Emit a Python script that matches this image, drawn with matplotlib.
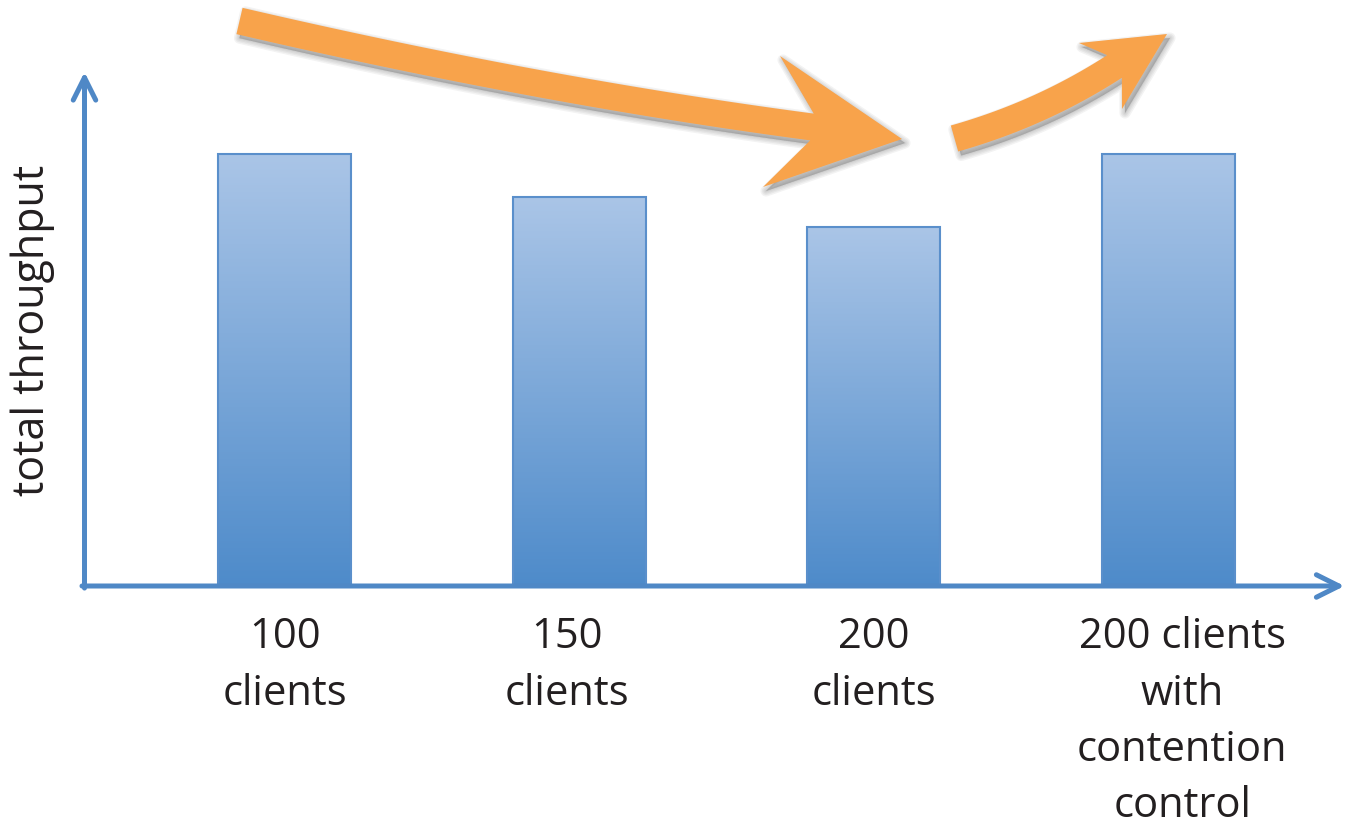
import numpy as np
import matplotlib.pyplot as plt
from matplotlib.colors import LinearSegmentedColormap
from matplotlib.patches import Polygon
from matplotlib.transforms import ScaledTranslation

plt.rcParams['font.family'] = ['Open Sans', 'DejaVu Sans']

categories = ['100\nclients', '150\nclients', '200\nclients',
              '200 clients\nwith\ncontention\ncontrol']
throughput = [100, 90, 83, 100]

AXIS_BLUE = '#4F88C6'
BAR_EDGE = '#5A8FCB'
BAR_TOP = '#AAC5E7'
BAR_BOTTOM = '#4E8BCA'
ORANGE = '#F8A34B'
TEXT = '#231F20'

W, H = 1347, 828


def bezier(p0, c, p1, n=80):
    """ Points and unit normals along a quadratic bezier """
    t = np.linspace(0, 1, n)[:, None]
    p0, c, p1 = map(np.asarray, (p0, c, p1))
    pts = (1 - t) ** 2 * p0 + 2 * t * (1 - t) * c + t ** 2 * p1
    d = 2 * (1 - t) * (c - p0) + 2 * t * (p1 - c)
    d = d / np.linalg.norm(d, axis=1)[:, None]
    nrm = np.column_stack([-d[:, 1], d[:, 0]])
    return pts, nrm


def arrow_outline(p0, c, p1, width, barb_a, tip, barb_b):
    """ Curved block arrow with a notched head, in pixel coordinates """
    pts, nrm = bezier(p0, c, p1)
    side_a = pts + nrm * width / 2
    side_b = pts - nrm * width / 2
    return np.vstack([side_a, [barb_a, tip, barb_b], side_b[::-1]])


def draw_block_arrow(ax, outline):
    # soft drop shadow first, then the arrow itself
    for lw in (8, 6, 4, 2, 0.5):
        ax.add_patch(Polygon(outline + np.array([3, 4]), closed=True, fc='#555555', ec='#555555',
                             lw=lw, alpha=0.07, joinstyle='round'))
    ax.add_patch(Polygon(outline, closed=True, fc=ORANGE, ec='none'))


fig = plt.figure(figsize=(W / 100, H / 100), dpi=100)

# main chart, placed so the axis origin sits at the left/bottom arrows
ax = fig.add_axes([84.5 / W, 1 - 587 / H, 1 - 84.5 / W, 514 / H])
x = np.arange(len(categories))
bars = ax.bar(x, throughput, width=0.451, color='none', edgecolor=BAR_EDGE, linewidth=1.5, zorder=3)

cmap = LinearSegmentedColormap.from_list('barfill', [BAR_BOTTOM, BAR_TOP])
grad = np.linspace(0, 1, 256)[:, None]
for b in bars:
    x0, y0 = b.get_x(), b.get_y()
    im = ax.imshow(grad, cmap=cmap, origin='lower', aspect='auto', interpolation='bilinear',
                   extent=(x0, x0 + b.get_width(), y0, y0 + b.get_height()), zorder=2)
    im.set_clip_path(b)

ax.set_xlim(-0.679, 3.606)
ax.set_ylim(0, 119.0)
for s in ax.spines.values():
    s.set_visible(False)
ax.set_yticks([])
ax.set_xticks(x, categories, fontsize=30, color=TEXT)
ax.tick_params(axis='x', length=0, pad=21)
# nudge a couple of labels sideways (points)
label_shift = [0, -9, 0, 10]
for lbl, dx in zip(ax.get_xticklabels(), label_shift):
    lbl.set_linespacing(1.45)
    lbl.set_transform(lbl.get_transform() + ScaledTranslation(dx / 72, 0, fig.dpi_scale_trans))
ax.set_ylabel('total throughput', fontsize=31, color=TEXT, labelpad=21)

# axis lines with open arrow heads
axis_arrow = dict(arrowstyle='->,head_length=0.9,head_width=0.45', color=AXIS_BLUE, lw=3.6,
                  shrinkA=0, shrinkB=0, mutation_scale=18, capstyle='round', joinstyle='round')
ax.annotate('', xy=(0, 1), xytext=(0, -0.004), xycoords='axes fraction', arrowprops=axis_arrow,
            annotation_clip=False, zorder=4)
ax.annotate('', xy=(0.998, 0), xytext=(-0.002, 0), xycoords='axes fraction', arrowprops=axis_arrow,
            annotation_clip=False, zorder=4)

# overlay in pixel space for the trend arrows
over = fig.add_axes([0, 0, 1, 1], zorder=5)
over.set_xlim(0, W)
over.set_ylim(H, 0)
over.axis('off')

down = arrow_outline((239.5, 22), (540, 92), (812, 128), 27,
                     (763, 188), (902, 140), (780, 57))
up = arrow_outline((954.5, 139.5), (1041, 115), (1114.5, 67.5), 27,
                   (1122, 110), (1167, 35), (1079, 44))
draw_block_arrow(over, down)
draw_block_arrow(over, up)

fig.savefig('out.png', dpi=100)
